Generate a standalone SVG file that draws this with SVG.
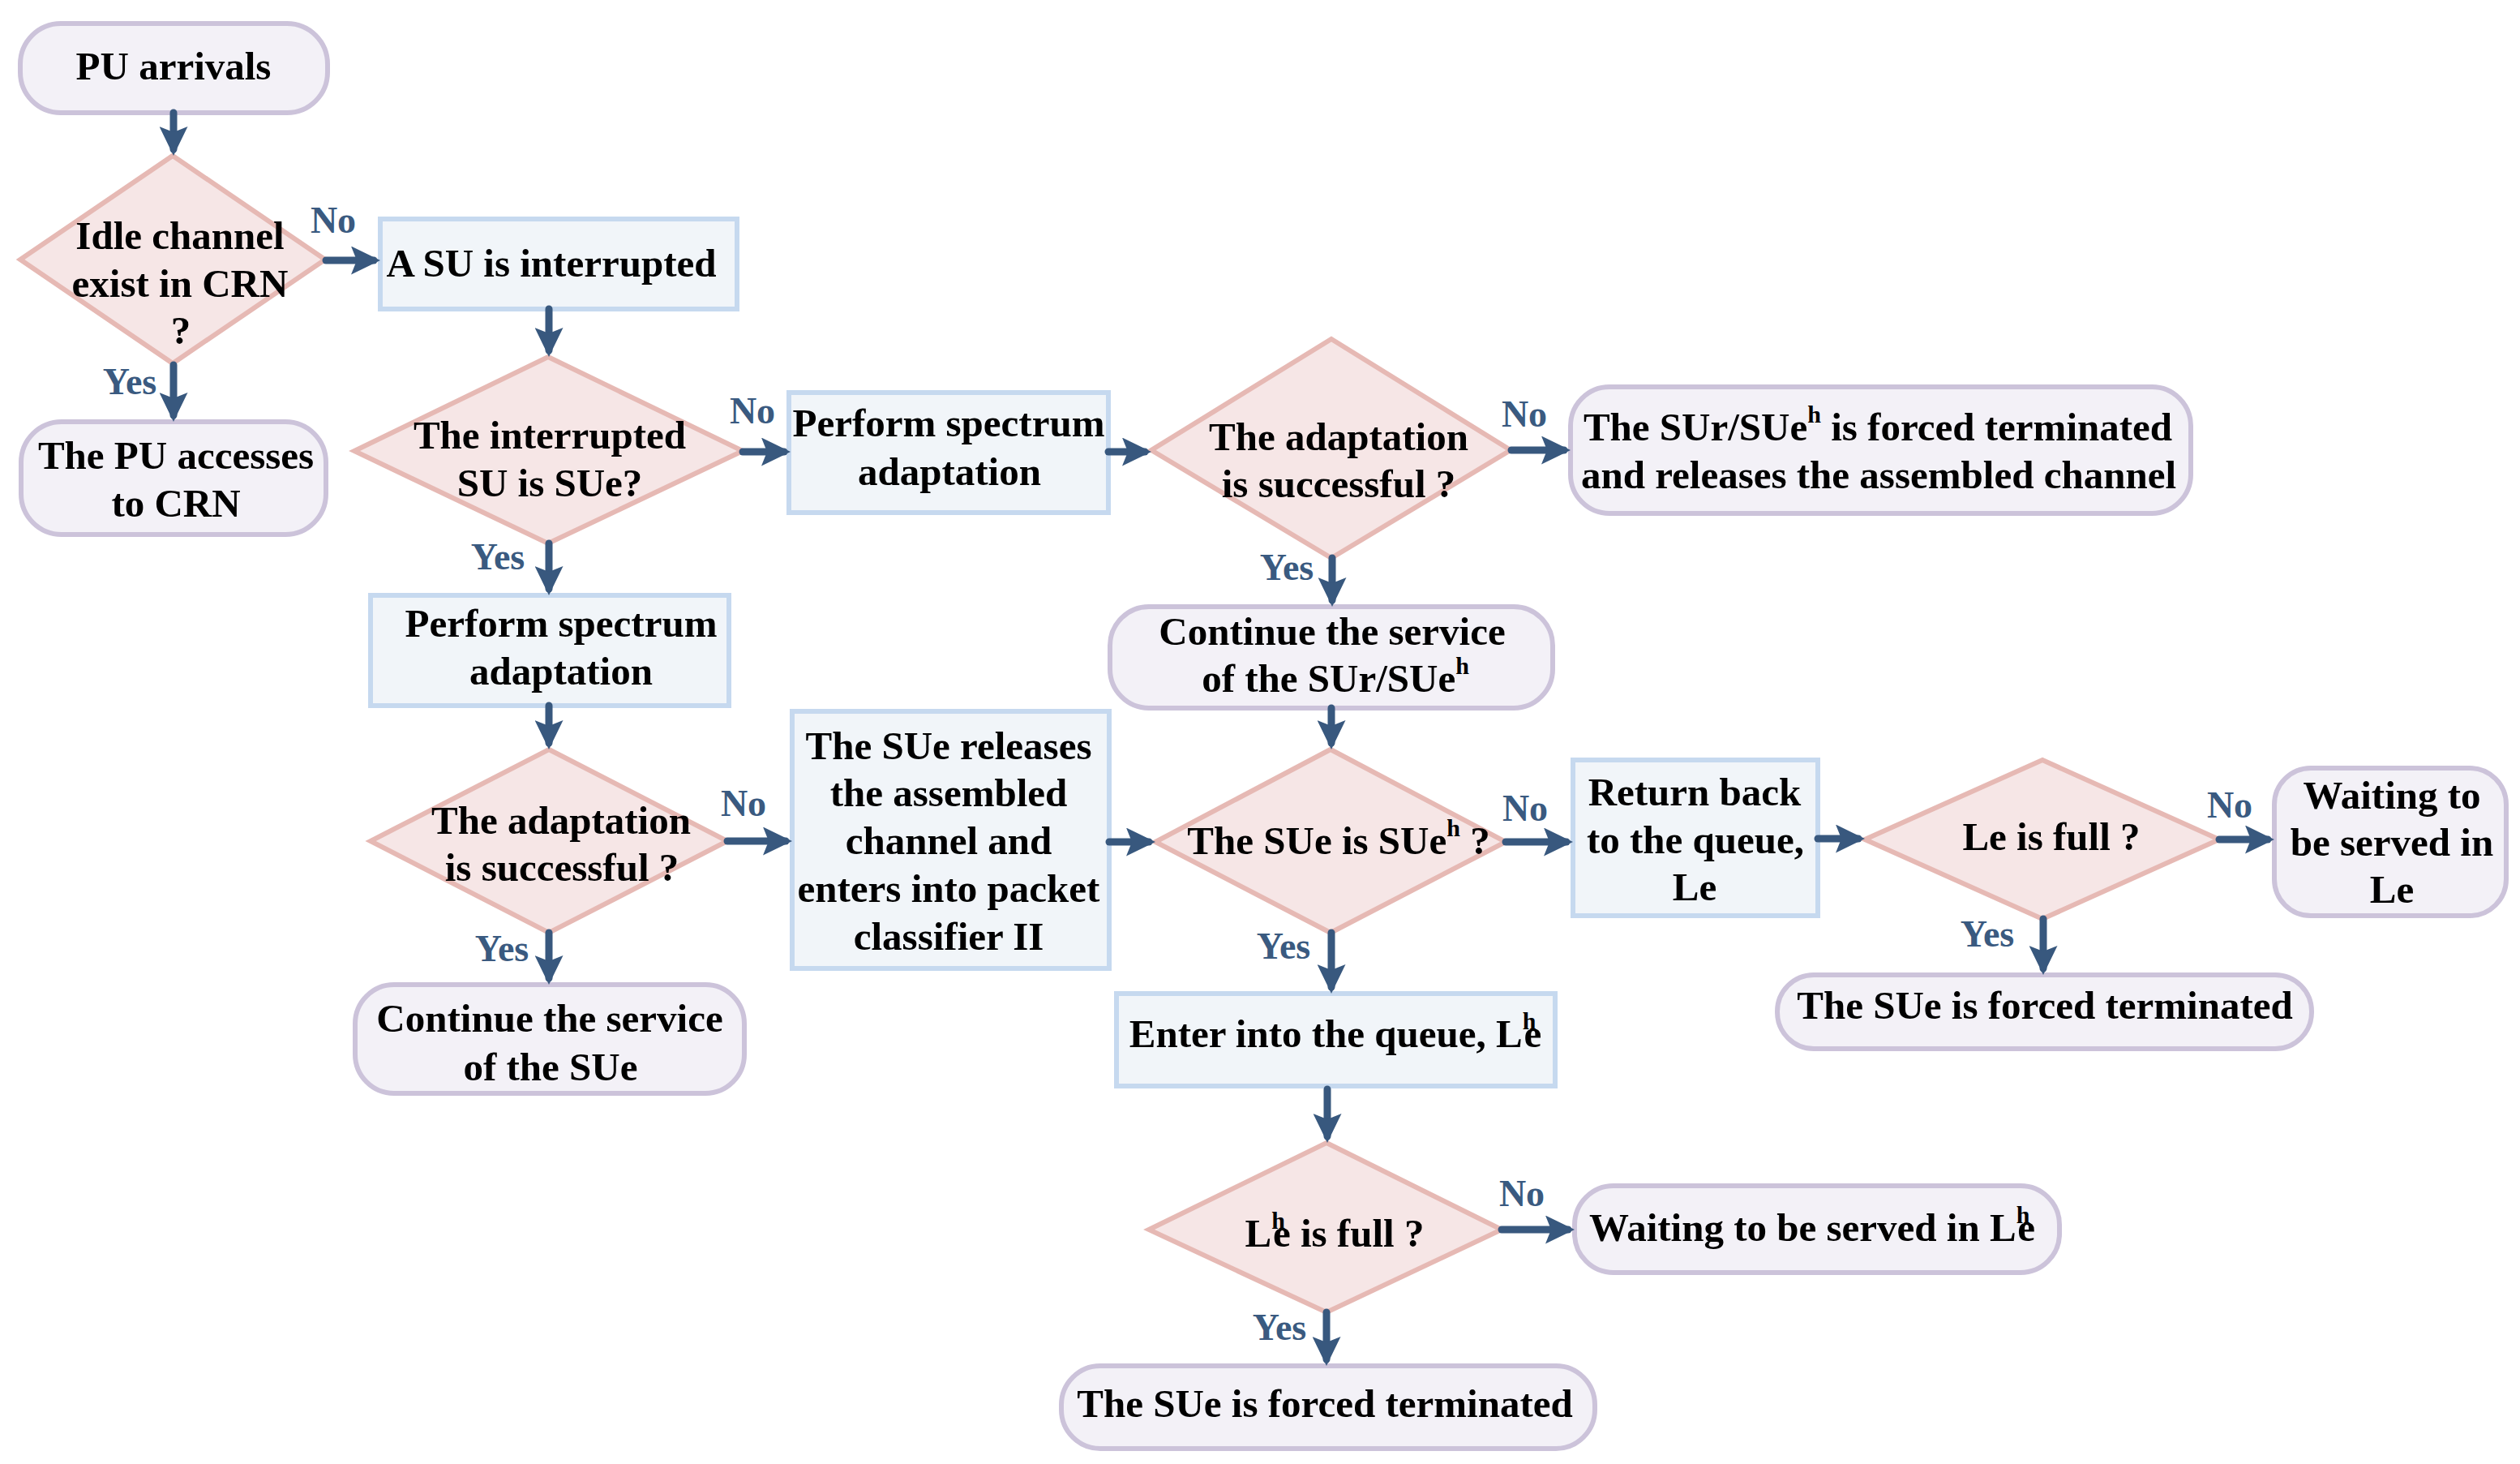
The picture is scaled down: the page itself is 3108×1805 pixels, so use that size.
<svg xmlns="http://www.w3.org/2000/svg" width="3108" height="1805" viewBox="0 0 3108 1805">
<style>
.t{font-family:"Liberation Serif","Times New Roman",serif;font-weight:bold;font-size:49px;fill:#000;text-anchor:middle}
.lb{font-family:"Liberation Serif","Times New Roman",serif;font-weight:bold;font-size:46px;fill:#3A5A80;text-anchor:middle}
.sup{font-size:30px}
.rr{fill:#F3F1F7;stroke:#CCC3DA;stroke-width:6}
.rc{fill:#F1F5F9;stroke:#C6D9EF;stroke-width:6}
.dm{fill:#F6E6E6;stroke:#E6B9B4;stroke-width:6;stroke-linejoin:miter}
.cn{fill:none;stroke:#38587E;stroke-width:9;stroke-linecap:round}
</style>
<defs>
<marker id="ah" markerUnits="userSpaceOnUse" markerWidth="36" markerHeight="35" refX="28" refY="17.5" orient="auto">
<path d="M0,0 L36,17.5 L0,35 L7,17.5 Z" fill="#38587E"/>
</marker>
</defs>
<rect width="3108" height="1805" fill="#FFFFFF"/>

<g id="n1"><rect class="rr" x="25" y="29" width="379" height="110" rx="50"/><text class="t" x="214" y="98">PU arrivals</text></g>
<g id="n2"><polygon class="dm" points="213,192 401,320 213,448 25,320"/><text class="t" x="222" y="307">Idle channel</text><text class="t" x="222" y="366">exist in CRN</text><text class="t" x="223" y="424">?</text></g>
<g id="n3"><rect class="rr" x="26" y="520" width="376" height="139" rx="50"/><text class="t" x="217" y="578">The PU accesses</text><text class="t" x="217" y="637">to CRN</text></g>
<g id="n4"><rect class="rc" x="469" y="270" width="440" height="111"/><text class="t" x="680" y="341">A SU is interrupted</text></g>
<g id="n5"><polygon class="dm" points="676,440 916,556 676,670 437,556"/><text class="t" x="678" y="553">The interrupted</text><text class="t" x="678" y="612">SU is SUe?</text></g>
<g id="n6"><rect class="rc" x="973" y="484" width="394" height="148"/><text class="t" x="1170" y="538">Perform spectrum</text><text class="t" x="1171" y="598">adaptation</text></g>
<g id="n7"><polygon class="dm" points="1642,418 1863,555 1642,688 1420,555"/><text class="t" x="1651" y="555">The adaptation</text><text class="t" x="1651" y="613">is successful ?</text></g>
<g id="n8"><rect class="rr" x="1937" y="477" width="765" height="156" rx="48"/><text class="t" x="2316" y="543">The SUr/SUe<tspan class="sup" dy="-22">h</tspan><tspan dy="22"> is forced terminated</tspan></text><text class="t" x="2317" y="602">and releases the assembled channel</text></g>
<g id="n9"><rect class="rr" x="1369" y="748" width="546" height="125" rx="48"/><text class="t" x="1643" y="795">Continue the service</text><text class="t" x="1647" y="853">of the SUr/SUe<tspan class="sup" dy="-22">h</tspan></text></g>
<g id="n10"><rect class="rc" x="457" y="734" width="442" height="136"/><text class="t" x="692" y="785">Perform spectrum</text><text class="t" x="692" y="844">adaptation</text></g>
<g id="n11"><polygon class="dm" points="677,924 897,1037 677,1150 457,1037"/><text class="t" x="692" y="1028">The adaptation</text><text class="t" x="693" y="1086">is successful ?</text></g>
<g id="n12"><polygon class="dm" points="1641,924 1857,1038 1641,1150 1425,1038"/><text class="t" x="1651" y="1053">The SUe is SUe<tspan class="sup" dy="-22">h</tspan><tspan dy="22"> ?</tspan></text></g>
<g id="n13"><rect class="rc" x="977" y="877" width="391" height="317"/><text class="t" x="1170" y="936">The SUe releases</text><text class="t" x="1170" y="994">the assembled</text><text class="t" x="1170" y="1053">channel and</text><text class="t" x="1170" y="1112">enters into packet</text><text class="t" x="1170" y="1171">classifier II</text></g>
<g id="n14"><rect class="rr" x="438" y="1214" width="480" height="134" rx="48"/><text class="t" x="678" y="1272">Continue the service</text><text class="t" x="679" y="1332">of the SUe</text></g>
<g id="n15"><rect class="rc" x="1940" y="937" width="302" height="192"/><text class="t" x="2090" y="993">Return back</text><text class="t" x="2091" y="1052">to the queue,</text><text class="t" x="2090" y="1110">Le</text></g>
<g id="n16"><polygon class="dm" points="2519,937 2737,1035 2519,1133 2300,1035"/><text class="t" x="2530" y="1048">Le is full ?</text></g>
<g id="n17"><rect class="rr" x="2805" y="947" width="286" height="182" rx="45"/><text class="t" x="2950" y="997">Waiting to</text><text class="t" x="2950" y="1055">be served in</text><text class="t" x="2950" y="1113">Le</text></g>
<g id="n18"><rect class="rr" x="2192" y="1202" width="659" height="91" rx="45"/><text class="t" x="2522" y="1256">The SUe is forced terminated</text></g>
<g id="n19"><rect class="rc" x="1377" y="1225" width="541" height="114"/><text class="t" x="1647" y="1291">Enter into the queue, L<tspan class="sup" dy="-22">h</tspan><tspan dx="-15" dy="22">e</tspan></text></g>
<g id="n20"><polygon class="dm" points="1636,1409 1852,1516 1636,1618 1417,1516"/><text class="t" x="1646" y="1537">L<tspan class="sup" dy="-22">h</tspan><tspan dx="-15" dy="22">e is full ?</tspan></text></g>
<g id="n21"><rect class="rr" x="1942" y="1462" width="598" height="107" rx="48"/><text class="t" x="2235" y="1530">Waiting to be served in L<tspan class="sup" dy="-22">h</tspan><tspan dx="-15" dy="22">e</tspan></text></g>
<g id="n22"><rect class="rr" x="1309" y="1684" width="658" height="102" rx="48"/><text class="t" x="1634" y="1747">The SUe is forced terminated</text></g>

<g id="connectors">
<path class="cn" marker-end="url(#ah)" d="M214,139 V184"/>
<path class="cn" marker-end="url(#ah)" d="M402,321 H461"/>
<path class="cn" marker-end="url(#ah)" d="M214,450 V512"/>
<path class="cn" marker-end="url(#ah)" d="M677,381 V432"/>
<path class="cn" marker-end="url(#ah)" d="M916,557 H967"/>
<path class="cn" marker-end="url(#ah)" d="M1367,557 H1412"/>
<path class="cn" marker-end="url(#ah)" d="M1864,555 H1929"/>
<path class="cn" marker-end="url(#ah)" d="M1643,688 V740"/>
<path class="cn" marker-end="url(#ah)" d="M1642,873 V916"/>
<path class="cn" marker-end="url(#ah)" d="M677,670 V726"/>
<path class="cn" marker-end="url(#ah)" d="M677,870 V916"/>
<path class="cn" marker-end="url(#ah)" d="M897,1037 H969"/>
<path class="cn" marker-end="url(#ah)" d="M677,1150 V1206"/>
<path class="cn" marker-end="url(#ah)" d="M1368,1038 H1417"/>
<path class="cn" marker-end="url(#ah)" d="M1857,1038 H1932"/>
<path class="cn" marker-end="url(#ah)" d="M2242,1034 H2292"/>
<path class="cn" marker-end="url(#ah)" d="M2737,1035 H2797"/>
<path class="cn" marker-end="url(#ah)" d="M2520,1133 V1194"/>
<path class="cn" marker-end="url(#ah)" d="M1642,1150 V1217"/>
<path class="cn" marker-end="url(#ah)" d="M1637,1343 V1401"/>
<path class="cn" marker-end="url(#ah)" d="M1852,1516 H1934"/>
<path class="cn" marker-end="url(#ah)" d="M1636,1618 V1676"/>
</g>

<g id="labels">
<text class="lb" x="411" y="287">No</text>
<text class="lb" x="160" y="486">Yes</text>
<text class="lb" x="928" y="522">No</text>
<text class="lb" x="614" y="702">Yes</text>
<text class="lb" x="1880" y="526">No</text>
<text class="lb" x="1587" y="715">Yes</text>
<text class="lb" x="917" y="1006">No</text>
<text class="lb" x="619" y="1185">Yes</text>
<text class="lb" x="1881" y="1012">No</text>
<text class="lb" x="1583" y="1182">Yes</text>
<text class="lb" x="2750" y="1008">No</text>
<text class="lb" x="2451" y="1167">Yes</text>
<text class="lb" x="1877" y="1487">No</text>
<text class="lb" x="1578" y="1652">Yes</text>
</g>
</svg>
